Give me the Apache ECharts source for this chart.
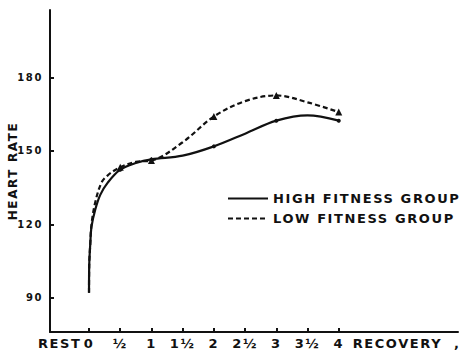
<!DOCTYPE html>
<html><head><meta charset="utf-8">
<script src="https://cdn.jsdelivr.net/npm/echarts@6/dist/echarts.min.js"></script>
<style>
html,body{margin:0;padding:0;background:#fff;}
#main{width:466px;height:356px;}
#main text{letter-spacing:1.6px;}
</style></head><body><div id="main"></div>
<script>
// ---- data ----
const highTimes  = [0, 0.003, 0.02, 0.04, 0.1, 0.18, 0.3, 0.5, 0.75, 1, 1.5, 2, 2.5, 3, 3.5, 4];
const highValues = [92, 103, 112, 119, 126, 132, 137, 142.3, 145, 146.5, 148, 151.8, 157, 162.3, 164.5, 162.3];
const lowTimes   = [0, 0.003, 0.02, 0.04, 0.1, 0.2, 0.3, 0.5, 0.75, 1, 1.5, 2, 2.5, 3, 3.5, 4];
const lowValues  = [92, 103, 112, 120, 129, 137, 140, 143.3, 145.5, 146, 153.5, 164, 170.3, 172.6, 169.8, 165.8];
const markerTimes = [0.5, 1, 2, 3, 4];

const seriesNames = ['HIGH FITNESS GROUP', 'LOW FITNESS GROUP'];
const xTickValues = [0, 0.5, 1, 1.5, 2, 2.5, 3, 3.5, 4];
const xTickLabels = ['0', '½', '1', '1½', '2', '2½', '3', '3½', '4'];
const xExtraValues = [-0.47, 4.94, 5.9];
const xExtraLabels = ['REST', 'RECOVERY', ','];
const yTickValues = [90, 120, 150, 180];
const yAxisTitle = 'HEART RATE';

function buildData(times, values, sym) {
  return times.map((t, i) => ({
    value: [t, values[i]],
    symbol: markerTimes.indexOf(t) >= 0 ? sym : 'none'
  }));
}
function xLabel(v) {
  let i = xTickValues.indexOf(v);
  if (i >= 0) return xTickLabels[i];
  i = xExtraValues.indexOf(v);
  return i >= 0 ? xExtraLabels[i] : '';
}

const FONT = 'DejaVu Sans';
const INK = '#111';
const chart = echarts.init(document.getElementById('main'), null, {renderer: 'svg'});
chart.setOption({
  animation: false,
  backgroundColor: '#fff',
  grid: {left: 50, right: 8, top: 10, bottom: 24, outerBoundsMode: 'none', containLabel: false},
  legend: {
    data: seriesNames,
    orient: 'vertical',
    left: 222, top: 187,
    itemWidth: 40, itemHeight: 12, itemGap: 7,
    itemStyle: {opacity: 0},
    textStyle: {fontFamily: FONT, fontWeight: 'bold', fontSize: 13, color: INK}
  },
  xAxis: {
    type: 'value', min: -0.625, max: 5.91,
    axisLine: {onZero: false, lineStyle: {color: INK, width: 2}},
    axisTick: {inside: true, length: 4, lineStyle: {color: INK, width: 2}, customValues: xTickValues},
    axisLabel: {
      customValues: xTickValues.concat(xExtraValues),
      formatter: xLabel,
      margin: 5,
      fontFamily: FONT, fontWeight: 'bold', fontSize: 13, color: INK
    },
    splitLine: {show: false}
  },
  yAxis: {
    type: 'value', min: 76, max: 207.5,
    name: yAxisTitle, nameLocation: 'middle', nameGap: 31, nameMoveOverlap: false,
    nameTextStyle: {fontFamily: FONT, fontWeight: 'bold', fontSize: 12, color: INK},
    axisLine: {show: true, onZero: false, lineStyle: {color: INK, width: 2}},
    axisTick: {show: true, inside: true, length: 4, lineStyle: {color: INK, width: 2}, customValues: yTickValues},
    axisLabel: {
      customValues: yTickValues, margin: 7,
      fontFamily: FONT, fontWeight: 'bold', fontSize: 10, color: INK
    },
    splitLine: {show: false}
  },
  series: [
    {
      name: seriesNames[0], type: 'line', smooth: 0.35,
      data: buildData(highTimes, highValues, 'circle'),
      symbolSize: 4, showSymbol: true,
      lineStyle: {color: INK, width: 2.2},
      itemStyle: {color: INK}
    },
    {
      name: seriesNames[1], type: 'line', smooth: 0.35,
      data: buildData(lowTimes, lowValues, 'triangle'),
      symbolSize: 7, showSymbol: true,
      lineStyle: {color: INK, width: 2.2, type: [5, 3]},
      itemStyle: {color: INK}
    }
  ]
});
</script></body></html>
